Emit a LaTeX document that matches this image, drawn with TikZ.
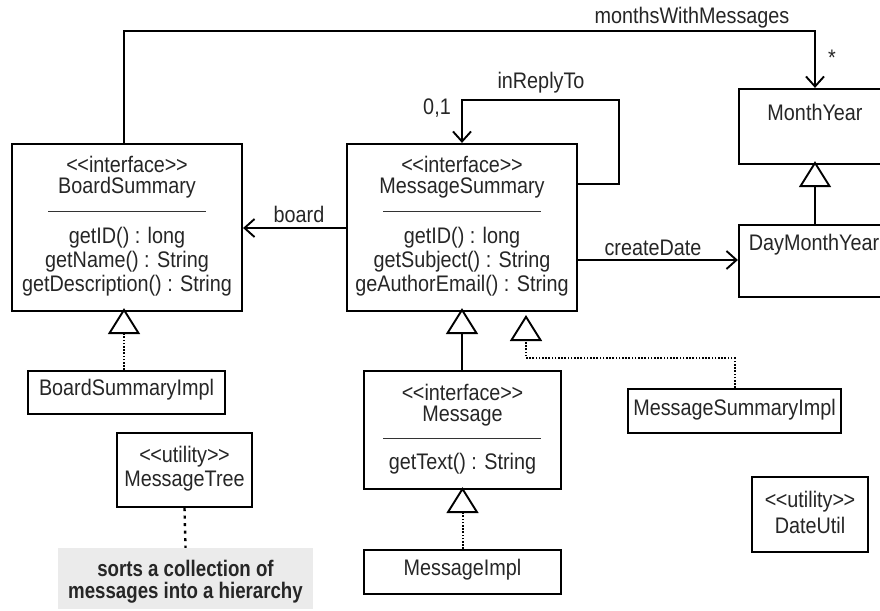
\documentclass[tikz,border=0pt]{standalone}
\usepackage{fontspec}
\setmainfont{Liberation Sans}[FakeStretch=0.88]
\newfontfamily\notefont{Liberation Sans}[FakeStretch=0.83]
\usetikzlibrary{arrows.meta}
\newcommand{\stereo}[1]{\textless\kern-0.5pt\textless #1\textgreater\kern-0.5pt\textgreater}
\begin{document}
\begin{tikzpicture}[x=1pt,y=-1pt,
  box/.style={draw,line width=2.2pt,inner sep=0pt,fill=white},
  txt/.style={inner sep=0pt,font=\fontsize{22.5}{24}\selectfont,text=black!85},
  notetxt/.style={inner sep=0pt,font=\notefont\bfseries\fontsize{22.5}{24}\selectfont,text=black!85},
  divider/.style={line width=0.9pt,black!80},
  assoc/.style={line width=1.9pt,-{Straight Barb[length=10pt,width=18pt,line width=1.9pt]}},
  gen/.style={line width=1.9pt,-{Triangle[open,length=26pt,width=32pt,line width=1.9pt,fill=white]}},
  real/.style={line width=2pt,dash pattern=on 1.6pt off 1.6pt,-{Triangle[open,length=26pt,width=32pt,line width=1.9pt,fill=white]}},
  noteline/.style={line width=2.4pt,dash pattern=on 3pt off 4.5pt}
]
\clip (0,0) rectangle (880,610);
\fill[white] (0,0) rectangle (880,610);

% boxes
\node[box,minimum width=230pt,minimum height=167pt] (bs) at (127,227.5) {};
\node[box,minimum width=230pt,minimum height=167pt] (ms) at (462,227.5) {};
\node[box,minimum width=152pt,minimum height=75pt] (my) at (815,126.5) {};
\node[box,minimum width=152pt,minimum height=72pt] (dmy) at (815,261) {};
\node[box,minimum width=197pt,minimum height=43pt] (bsi) at (126.5,392.5) {};
\node[box,minimum width=135pt,minimum height=74pt] (mt) at (184.5,470) {};
\node[fill=black!8,inner sep=0pt,minimum width=255pt,minimum height=61pt] (note) at (185.5,578.5) {};
\node[box,minimum width=197pt,minimum height=118pt] (m) at (462.5,430) {};
\node[box,minimum width=213pt,minimum height=44pt] (msi) at (734.5,411) {};
\node[box,minimum width=197pt,minimum height=44pt] (mi) at (462.5,572) {};
\node[box,minimum width=116pt,minimum height=75pt] (du) at (810,514.5) {};

% texts BoardSummary
\node[txt] (bs1) at (127,164) {\stereo{interface}};
\node[txt] (bs2) at (127,188) {BoardSummary};
\draw[divider] (48,211) -- (206,211);
\node[txt] (bs3) at (127,238) {getID() : long};
\node[txt] (bs4) at (127,262) {getName() : String};
\node[txt] (bs5) at (127,286) {getDescription() : String};

% texts MessageSummary
\node[txt] (ms1) at (462,164) {\stereo{interface}};
\node[txt] (ms2) at (462,188) {MessageSummary};
\draw[divider] (383,211) -- (541,211);
\node[txt] (ms3) at (462,238) {getID() : long};
\node[txt] (ms4) at (462,262) {getSubject() : String};
\node[txt] (ms5) at (462,286) {geAuthorEmail() : String};

\node[txt] (my1) at (815,112) {MonthYear};
\node[txt] (dmy1) at (814,245) {DayMonthYear};
\node[txt] (bsi1) at (126.5,390) {BoardSummaryImpl};
\node[txt] (mt1) at (184.5,457) {\stereo{utility}};
\node[txt] (mt2) at (184.5,481) {MessageTree};
\node[notetxt] (n1) at (185.5,568) {sorts a collection of};
\node[notetxt] (n2) at (185.5,593) {messages into a hierarchy};

\node[txt] (m1) at (462.5,392) {\stereo{interface}};
\node[txt] (m2) at (462.5,416) {Message};
\draw[divider] (383,438) -- (541,438);
\node[txt] (m3) at (462.5,464) {getText() : String};
\node[txt] (msi1) at (734.5,410) {MessageSummaryImpl};
\node[txt] (mi1) at (462.5,570) {MessageImpl};
\node[txt] (du1) at (810,502) {\stereo{utility}};
\node[txt] (du2) at (810,525) {DateUtil};

% connectors
\draw[assoc] ([xshift=-3pt]bs.north) -- ++(0,-112) -| (my.north);
\node[txt] (lmw) at (692,18) {monthsWithMessages};
\node[txt] (lstar) at (832,58) {*};

\coordinate (r1) at (619,184);
\coordinate (r2) at (619,100);
\draw[assoc] (ms.east |- r1) -- (r1) -- (r2) -| (ms.north);
\node[txt] (lirt) at (541,83) {inReplyTo};
\node[txt] (l01) at (437,108) {0,1};

\coordinate (bd) at (300,228);
\draw[assoc] (ms.west |- bd) -- (bs.east |- bd);
\node[txt] (lbd) at (299,214) {board};

\coordinate (cd) at (650,260);
\draw[assoc] (ms.east |- cd) -- (dmy.west |- cd);
\node[txt] (lcd) at (653,248) {createDate};

\draw[gen] (dmy.north) -- ([yshift=4pt]my.south);
\coordinate (bsx) at (124,0);
\draw[real] (bsi.north -| bsx) -- ([xshift=-3pt,yshift=4pt]bs.south);
\draw[gen] (m.north -| ms.south) -- ([yshift=4pt]ms.south);
\coordinate (mb) at (526,358);
\coordinate (mt2p) at (526,315);
\draw[real] (msi.north) |- (mb) -- (mt2p);
\draw[real] (mi.north) -- ([yshift=3pt]m.south);
\draw[noteline] (mt.south) -- (note.north);
\end{tikzpicture}
\end{document}
